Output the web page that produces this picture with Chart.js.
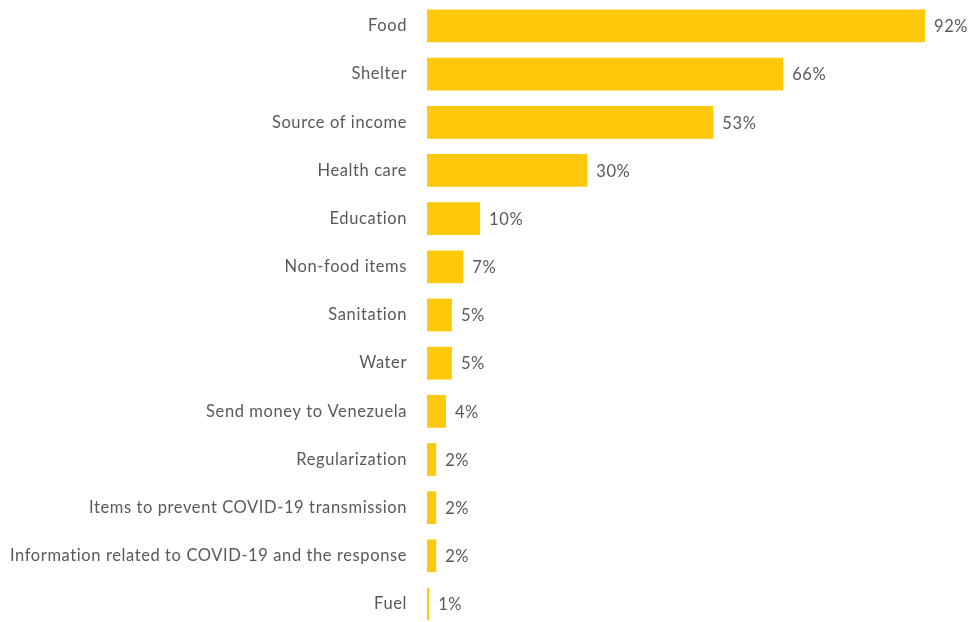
<!DOCTYPE html>
<html>
<head>
<meta charset="utf-8">
<script src="https://cdn.jsdelivr.net/npm/chart.js@4.4.1/dist/chart.umd.min.js"></script>
<style>
  html, body { margin: 0; padding: 0; background: #ffffff; overflow: hidden; }
  #c { display: block; margin-top: -28px; }
</style>
</head>
<body>
<canvas id="c" width="969" height="686"></canvas>
<script>
const categories = [
  "Food", "Shelter", "Source of income", "Health care", "Education",
  "Non-food items", "Sanitation", "Water", "Send money to Venezuela",
  "Regularization", "Items to prevent COVID-19 transmission",
  "Information related to COVID-19 and the response", "Fuel"
];
const values = [92, 65.8, 52.9, 29.6, 9.8, 6.7, 4.6, 4.6, 3.5, 1.7, 1.7, 1.7, 0.4];
const valueLabels = ["92%", "66%", "53%", "30%", "10%", "7%", "5%", "5%", "4%", "2%", "2%", "2%", "1%"];

const FONT = "Lato, 'Open Sans', sans-serif";
const TEXT = "#595959";

const spacingPlugin = {
  id: "spacing",
  beforeDraw(chart) { chart.ctx.letterSpacing = "0.6px"; }
};

const valueLabelPlugin = {
  id: "valueLabels",
  afterDatasetsDraw(chart) {
    const ctx = chart.ctx;
    const meta = chart.getDatasetMeta(0);
    ctx.save();
    ctx.fillStyle = TEXT;
    ctx.font = "16.5px " + FONT;
    ctx.textAlign = "left";
    ctx.textBaseline = "middle";
    meta.data.forEach((bar, i) => {
      ctx.fillText(valueLabels[i], bar.x + 9, bar.y + 1);
    });
    ctx.restore();
  }
};

new Chart(document.getElementById("c"), {
  type: "bar",
  data: {
    labels: categories,
    datasets: [{
      data: values,
      backgroundColor: "#FFC90B",
      borderWidth: 0,
      barPercentage: 0.85,
      categoryPercentage: 0.8
    }]
  },
  options: {
    indexAxis: "y",
    responsive: false,
    maintainAspectRatio: false,
    animation: false,
    layout: { padding: { left: 0, right: 44, top: 0, bottom: 0 } },
    plugins: { legend: { display: false }, tooltip: { enabled: false } },
    scales: {
      x: { display: false, min: 0, max: 92 },
      y: {
        border: { display: false },
        grid: { display: false, drawTicks: false },
        ticks: {
          color: TEXT,
          font: { family: FONT, size: 16.5 },
          padding: 20
        },
        afterFit(scale) { scale.width = 427; }
      }
    }
  },
  plugins: [spacingPlugin, valueLabelPlugin]
});
</script>
</body>
</html>
